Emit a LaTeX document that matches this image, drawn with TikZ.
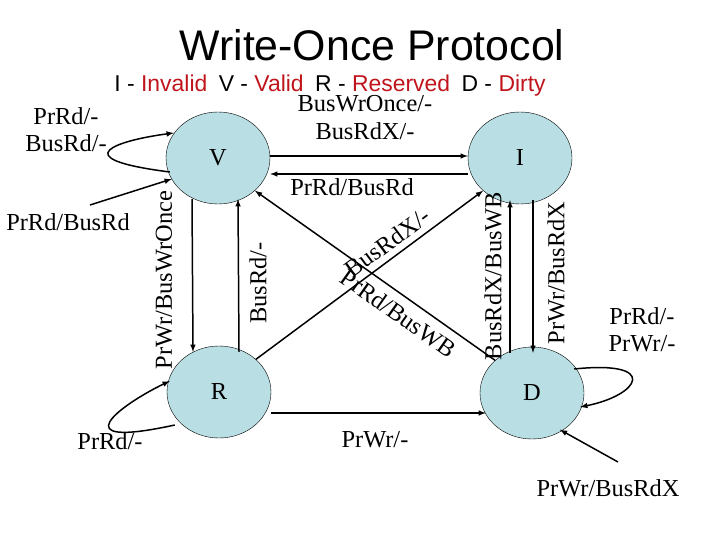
\documentclass[tikz,border=0pt]{standalone}
\usepackage{fontspec}
\setmainfont{Liberation Serif}
\newfontfamily\hdfont{Liberation Sans}
\usepackage{xcolor}
\usetikzlibrary{calc,shapes.geometric}
\definecolor{stfill}{HTML}{B9DEE3}
\definecolor{legred}{HTML}{C0141C}

\begin{document}
\begin{tikzpicture}[x=1bp,y=-1bp]
  \tikzset{every node/.style={inner sep=0pt,font=\fontsize{24.5}{27}\selectfont}};
  \tikzset{state/.style={ellipse,draw,fill=stfill,minimum width=104bp,minimum height=92bp}};
  \tikzset{tr/.style={draw,line width=1.5pt,-latex}};
  \useasboundingbox (0,0) rectangle (720,540);
  \node[font=\hdfont\fontsize{43}{47}\selectfont] (title) at (372,45){Write-Once Protocol};
  \node[font=\hdfont\fontsize{23}{26}\selectfont] (legend) at (330,86){I - \textcolor{legred}{Invalid}\enspace V - \textcolor{legred}{Valid}\enspace R - \textcolor{legred}{Reserved}\enspace D - \textcolor{legred}{Dirty}};
  \node[state] (V) at (218,158){V};
  \node[state] (I) at (520,158){I};
  \node[state] (R) at (219,392){R};
  \node[state] (D) at (532,393){D};
  \coordinate (inV) at (90,205);
  \coordinate (inD) at (618,462);
  % horizontal V <-> I
  \draw[tr] ($(V.east)+(0,-2)$) -- ($(I.west)+(0,-2)$);
  \draw[tr] ($(I.west)+(0,16)$) -- ($(V.east)+(0,16)$);
  \node (BWO) at (365,104){BusWrOnce/-};
  \node (BRX) at (365,131){BusRdX/-};
  \node (PRB) at (352,187){PrRd/BusRd};
  % vertical V <-> R
  \draw[tr] ($(V.south)+(-26,-5)$) -- ($(R.north)+(-26,6)$);
  \draw[tr] ($(R.north)+(20,6)$) -- ($(V.south)+(20,-5)$);
  \node[rotate=90] (PWBWO) at (164,280){PrWr/BusWrOnce};
  \node[rotate=90] (BRd) at (258,283){BusRd/-};
  % vertical I <-> D
  \draw[tr] ($(D.north)+(-22,6)$) -- ($(I.south)+(-10,-4)$);
  \draw[tr] ($(I.south)+(13,-4)$) -- ($(D.north)+(1,6)$);
  \node[rotate=90] (BRXWB) at (493,276){BusRdX/BusWB};
  \node[rotate=90] (PWBRX) at (556,273){PrWr/BusRdX};
  % diagonals
  \draw[tr] (R.north east) -- (I.south west) node[pos=0.62,sloped,above=6bp]{BusRdX/-};
  \draw[tr] (D.north west) -- (V.south east) node[pos=0.36,sloped,below=8bp]{PrRd/BusWB};
  % R -> D
  \draw[tr] ($(R.east)+(0,21)$) -- ($(D.west)+(6,20)$);
  \node (PW) at (375,440){PrWr/-};
  % self loops
  \draw[tr] ($(V.west)+(4,14)$) .. controls (60,158) and (120,140) .. ($(V.west)+(8,-25)$);
  \node[align=center] (Vloop) at (66,130){PrRd/-\\BusRd/-};
  \draw[tr] (inV) -- ($(V.west)+(6,21)$);
  \node (Vin) at (68,222){PrRd/BusRd};
  \draw[tr] ($(R.west)+(8,33)$) .. controls (60,450) and (120,405) .. ($(R.west)+(3,-11)$);
  \node (Rloop) at (110,441){PrRd/-};
  \draw[tr] ($(D.east)+(-10,-24)$) .. controls (660,360) and (640,395) .. ($(D.east)+(-4,14)$);
  \node[align=center] (Dloop) at (642,330){PrRd/-\\PrWr/-};
  \draw[tr] (inD) -- ($(D.south east)+(-9,4)$);
  \node (Din) at (608,488){PrWr/BusRdX};
\end{tikzpicture}
\end{document}
